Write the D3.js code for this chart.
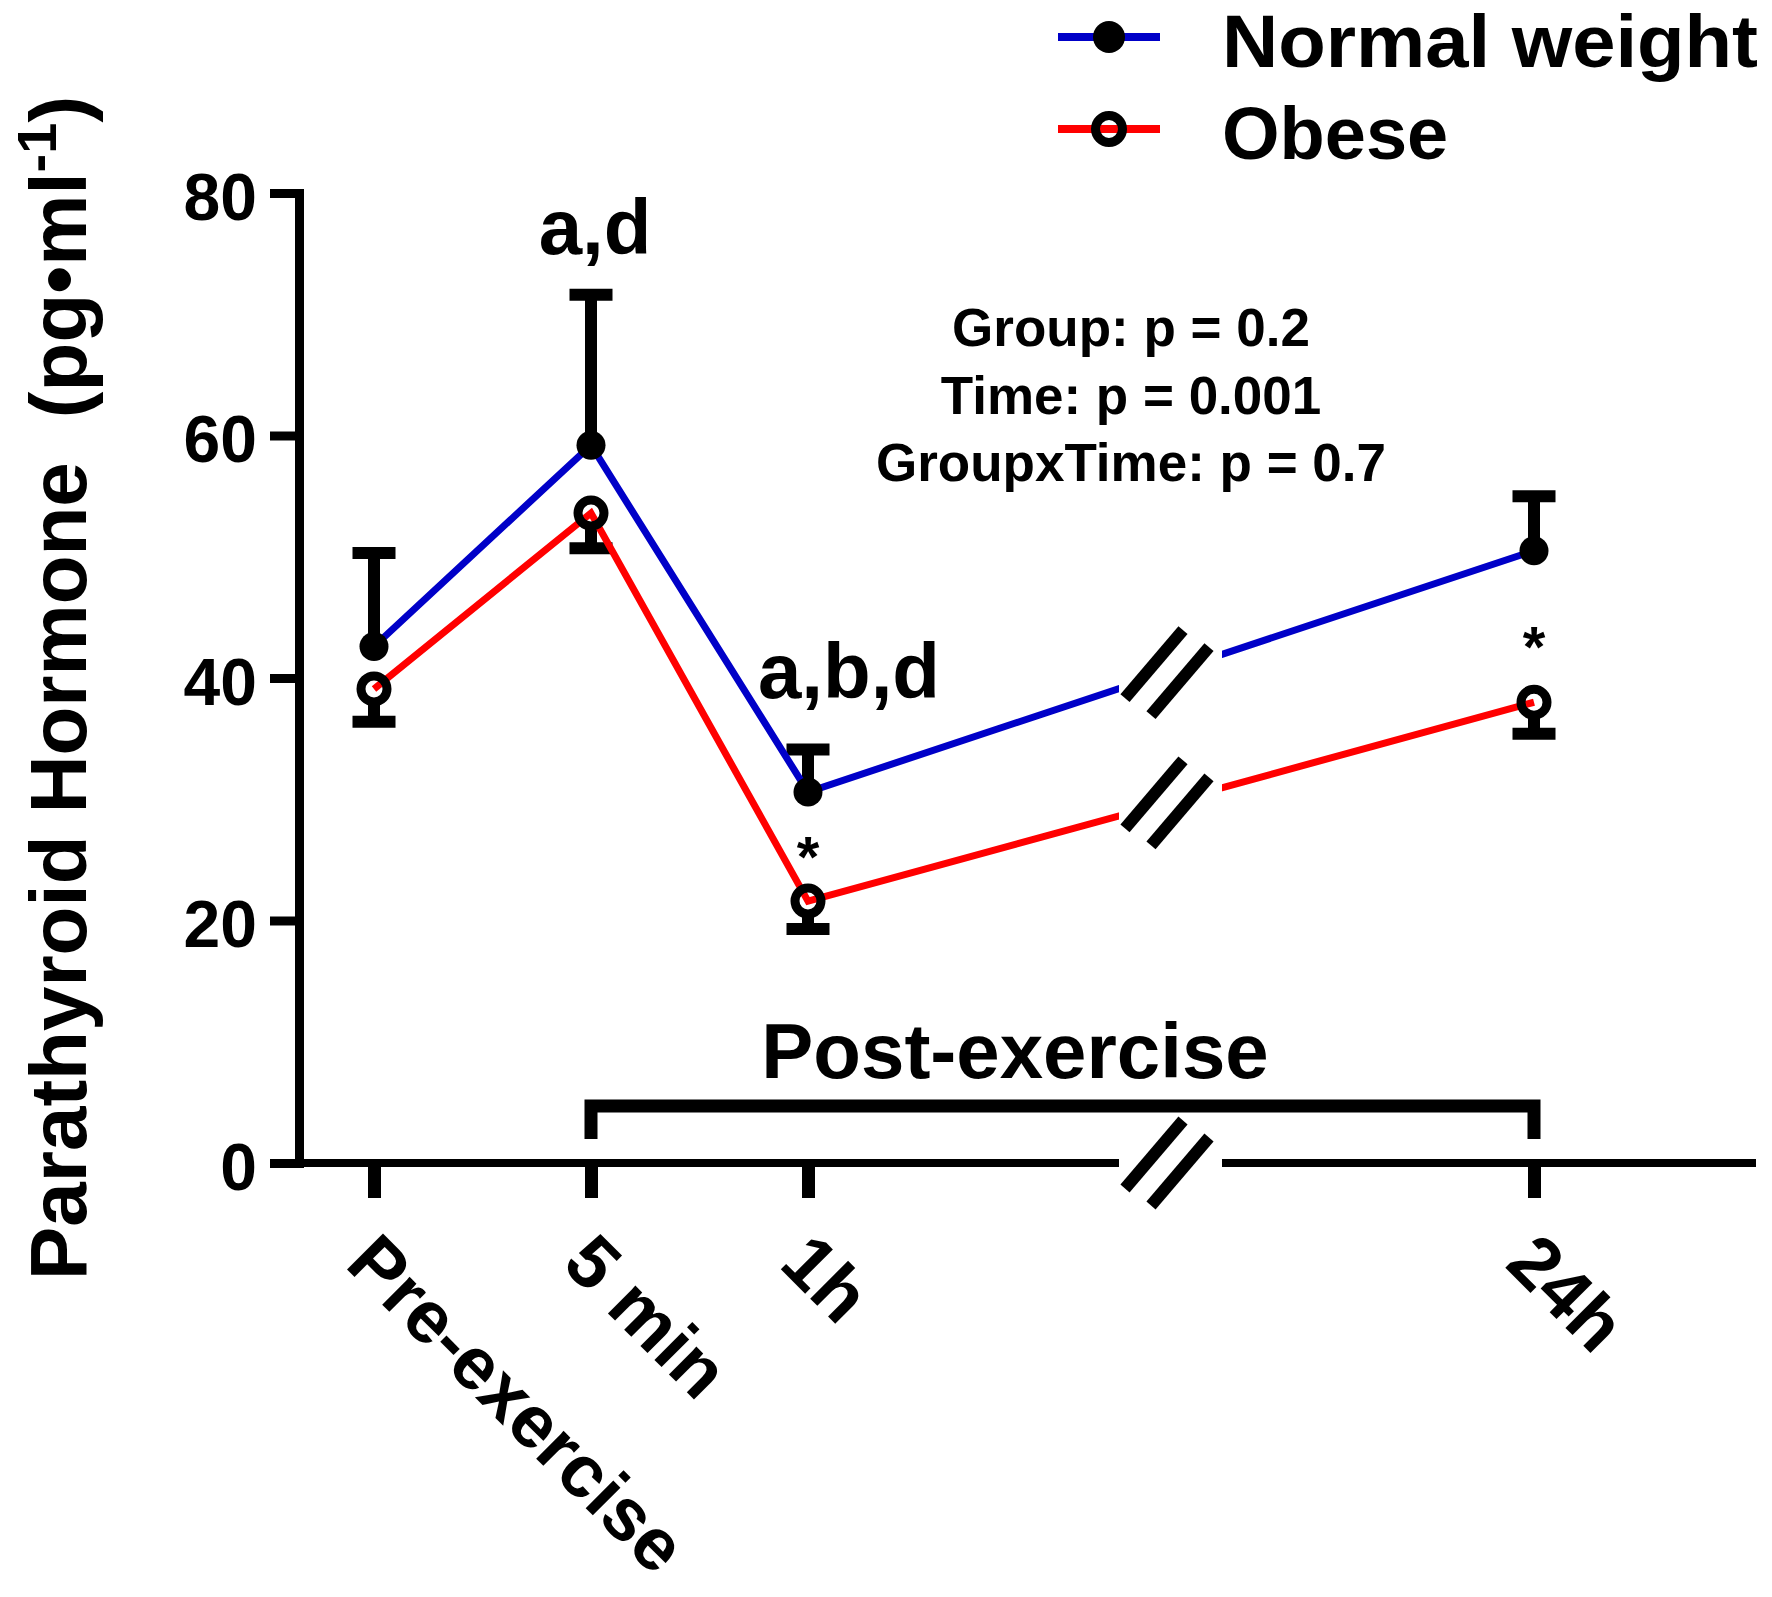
<!DOCTYPE html>
<html><head><meta charset="utf-8">
<script src="https://cdn.jsdelivr.net/npm/d3@7"></script>
<style>
html,body{margin:0;padding:0;background:#fff;}
svg{display:block;}
</style></head><body>
<svg id="chart" width="1772" height="1597"></svg>
<script>
// ---------------- data ----------------
const categories = ["Pre-exercise", "5 min", "1h", "24h"];
const seriesNames = ["Normal weight", "Obese"];
const normalMean = [42.6, 59.2, 30.6, 50.5];
const normalErr  = [7.7, 12.4, 3.5, 4.5];   // drawn upward
const obeseMean  = [39.1, 53.6, 21.6, 38.0];
const obeseErr   = [2.7, 2.9, 2.3, 2.6];    // drawn downward
const yTicks = [0, 20, 40, 60, 80];
const letterNotes = [{i: 1, text: "a,d"}, {i: 2, text: "a,b,d"}];
const starNotes = [2, 3];
const statsLines = ["Group: p = 0.2", "Time: p = 0.001", "GroupxTime: p = 0.7"];
const bracketLabel = "Post-exercise";
const yLabelMain = "Parathyroid Hormone";
const yLabelUnit = "(pg\u2022ml";
const yLabelSup = "-1";

// ---------------- layout ----------------
const W = 1772, H = 1597;
const FONT = "'Liberation Sans', Arial, Helvetica, sans-serif";
const BLUE = "#0000c8", RED = "#ff0000";
const axisX = 299, axisY = 1163;
const gapL = 1119, gapR = 1222, breakX = 1167;

const svg = d3.select("#chart")
  .attr("font-family", FONT).attr("font-weight", "bold");

const x = d3.scaleLinear().domain([0, 1, 2, 3]).range([374, 591, 808, 1534]);
const y = d3.scaleLinear().domain([0, 80]).range([axisY, 193]);

const defs = svg.append("defs");
const cp = defs.append("clipPath").attr("id", "gap");
cp.append("rect").attr("x", 0).attr("y", 0).attr("width", gapL).attr("height", H);
cp.append("rect").attr("x", gapR).attr("y", 0).attr("width", W - gapR).attr("height", H);

// break marks "//"
function drawBreak(cx, cy) {
  const hx = 29, hy = -34, ox = 13, oy = 8.5;
  [-1, 1].forEach(s => {
    const mx = cx + s * ox, my = cy + s * oy;
    svg.append("line")
      .attr("x1", mx - hx).attr("y1", my - hy)
      .attr("x2", mx + hx).attr("y2", my + hy)
      .attr("stroke", "#000").attr("stroke-width", 12);
  });
}

// ---------------- Y axis ----------------
const gy = svg.append("g").attr("transform", `translate(${axisX},0)`)
  .call(d3.axisLeft(y).tickValues(yTicks).tickSize(29).tickSizeOuter(0).tickPadding(13));
gy.attr("font-family", null).attr("font-size", null);
gy.select(".domain").attr("stroke", "#000").attr("stroke-width", 9).attr("stroke-linecap", "square");
gy.selectAll(".tick line").attr("stroke", "#000").attr("stroke-width", 9);
gy.selectAll(".tick text").attr("fill", "#000").attr("font-size", 66)
  .attr("font-family", FONT).attr("font-weight", "bold").attr("dy", "0.4em");

// ---------------- X axis ----------------
svg.append("line").attr("x1", 270).attr("x2", 1756).attr("y1", axisY).attr("y2", axisY)
  .attr("stroke", "#000").attr("stroke-width", 8).attr("clip-path", "url(#gap)");
drawBreak(breakX, axisY);

const gx = svg.append("g").attr("transform", `translate(0,${axisY})`)
  .call(d3.axisBottom(x).tickValues([0, 1, 2, 3]).tickFormat(i => categories[i]).tickSize(35).tickSizeOuter(0));
gx.attr("font-family", null).attr("font-size", null);
gx.select(".domain").remove();
gx.selectAll(".tick line").attr("stroke", "#000").attr("stroke-width", 13);
gx.selectAll(".tick text")
  .attr("x", null).attr("y", null).attr("dy", null)
  .attr("fill", "#000").attr("font-size", 74).attr("font-family", FONT).attr("font-weight", "bold")
  .attr("text-anchor", "start")
  .attr("transform", `translate(-31,${1266 - axisY}) rotate(45)`);

// ---------------- bracket ----------------
svg.append("path")
  .attr("d", `M${x(1)},1139V1106H${x(3)}V1139`)
  .attr("fill", "none").attr("stroke", "#000").attr("stroke-width", 13).attr("stroke-linejoin", "miter");
svg.append("text").attr("x", 1015).attr("y", 1078).attr("text-anchor", "middle")
  .attr("font-size", 78).attr("fill", "#000").text(bracketLabel);

// ---------------- series ----------------
const series = [
  {name: seriesNames[0], mean: normalMean, err: normalErr, color: BLUE, dir: 1, filled: true},
  {name: seriesNames[1], mean: obeseMean, err: obeseErr, color: RED, dir: -1, filled: false}
];
const line = d3.line().x((d, i) => x(i)).y(d => y(d));

// error bars
series.forEach(s => {
  s.mean.forEach((m, i) => {
    const yEnd = y(m + s.dir * s.err[i]);
    const yStart = s.filled ? y(m) : y(m) - s.dir * 13;
    svg.append("line").attr("x1", x(i)).attr("x2", x(i)).attr("y1", yStart).attr("y2", yEnd)
      .attr("stroke", "#000").attr("stroke-width", 12);
    svg.append("line").attr("x1", x(i) - 21.5).attr("x2", x(i) + 21.5).attr("y1", yEnd).attr("y2", yEnd)
      .attr("stroke", "#000").attr("stroke-width", 12);
  });
});
// lines
series.forEach(s => {
  svg.append("path").attr("d", line(s.mean)).attr("fill", "none")
    .attr("stroke", s.color).attr("stroke-width", 7).attr("stroke-linejoin", "miter")
    .attr("clip-path", "url(#gap)");
  const t = x.invert(breakX);
  const v = s.mean[2] + (t - 2) * (s.mean[3] - s.mean[2]);
  drawBreak(breakX, y(v));
});
// markers
series.forEach(s => {
  s.mean.forEach((m, i) => {
    if (s.filled) {
      svg.append("circle").attr("cx", x(i)).attr("cy", y(m)).attr("r", 14.5).attr("fill", "#000");
    } else {
      svg.append("circle").attr("cx", x(i)).attr("cy", y(m)).attr("r", 13)
        .attr("fill", "none").attr("stroke", "#000").attr("stroke-width", 9);
    }
  });
});

// ---------------- annotations ----------------
const letterOffsets = [{dx: 4, dy: -41}, {dx: 41, dy: -52}];
letterNotes.forEach((n, k) => {
  svg.append("text")
    .attr("x", x(n.i) + letterOffsets[k].dx)
    .attr("y", y(normalMean[n.i] + normalErr[n.i]) + letterOffsets[k].dy)
    .attr("text-anchor", "middle").attr("font-size", 78).attr("fill", "#000").text(n.text);
});
const starOffsets = [-24, -35];
starNotes.forEach((i, k) => {
  svg.append("text").attr("x", x(i)).attr("y", y(obeseMean[i]) + starOffsets[k])
    .attr("text-anchor", "middle").attr("font-size", 58).attr("fill", "#000").text("*");
});
statsLines.forEach((s, k) => {
  svg.append("text").attr("x", 1131).attr("y", 346 + k * 67.5)
    .attr("text-anchor", "middle").attr("font-size", 53).attr("fill", "#000").text(s);
});

// ---------------- y label ----------------
const yl = svg.append("text").attr("transform", "translate(86,688) rotate(-90)")
  .attr("text-anchor", "middle").attr("font-size", 80).attr("fill", "#000");
yl.append("tspan").text(yLabelMain);
yl.append("tspan").attr("dx", 44).text(yLabelUnit);
yl.append("tspan").attr("dy", -30).attr("font-size", 56).text(yLabelSup);
yl.append("tspan").attr("dy", 30).text(")");

// ---------------- legend ----------------
const legY = [37, 129];
const legLen = [536, null];
series.forEach((s, k) => {
  const g = svg.append("g");
  g.append("line").attr("x1", 1058).attr("x2", 1160).attr("y1", legY[k]).attr("y2", legY[k])
    .attr("stroke", s.color).attr("stroke-width", 8);
  if (s.filled) {
    g.append("circle").attr("cx", 1109).attr("cy", legY[k]).attr("r", 16).attr("fill", "#000");
  } else {
    g.append("circle").attr("cx", 1109).attr("cy", legY[k]).attr("r", 13.5)
      .attr("fill", "none").attr("stroke", "#000").attr("stroke-width", 9);
  }
  const t = g.append("text").attr("x", 1222).attr("y", legY[k] + 30).attr("font-size", 74)
    .attr("fill", "#000").text(s.name);
  if (legLen[k]) t.attr("textLength", legLen[k]).attr("lengthAdjust", "spacingAndGlyphs");
});
</script>
</body></html>
